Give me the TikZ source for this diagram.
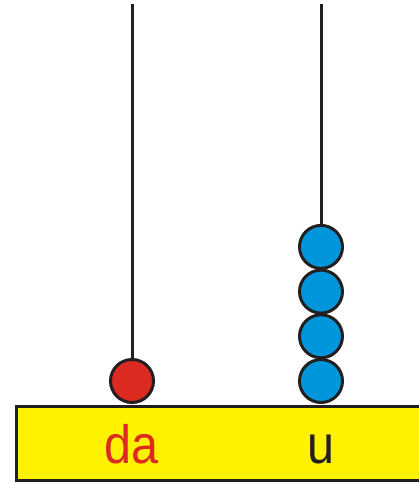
\documentclass[tikz,border=0pt]{standalone}
\usepackage{fontspec}
\setmainfont{Liberation Sans}
\usetikzlibrary{positioning}
\definecolor{baseyellow}{RGB}{255,242,0}
\definecolor{beadred}{RGB}{221,42,32}
\definecolor{beadblue}{RGB}{0,150,220}
\definecolor{outline}{RGB}{35,31,32}

\begin{document}
\begin{tikzpicture}[x=1pt, y=-1pt,
    bead/.style={circle, draw=outline, line width=3pt, minimum size=43pt, inner sep=0pt},
    rod/.style={draw=outline, line width=3pt},
    base/.style={rectangle, draw=outline, fill=baseyellow, line width=3pt, minimum width=430pt, minimum height=74pt, anchor=north west},
    digit/.style={font=\fontsize{54}{54}\selectfont, anchor=base, xscale=0.9}
]
\useasboundingbox (0,0) rectangle (419,484);

% Base
\node[base] (base) at (14.5, 405) {};

% Rods
\coordinate (datop) at (132, 4);
\coordinate (utop) at (321, 4);

% Beads
\node[bead, fill=beadred] (da1) at (132, 381) {};
\foreach \i/\y in {1/381, 2/336.3, 3/291.6, 4/246.9}
    \node[bead, fill=beadblue] (u\i) at (321, \y) {};

\draw[rod] (datop) -- (da1);
\draw[rod] (utop) -- (u4);

% Labels
\node[digit, text=beadred] (dalabel) at (132, 463) {da};
\node[digit, text=outline] (ulabel) at (321, 463) {u};
\end{tikzpicture}
\end{document}
